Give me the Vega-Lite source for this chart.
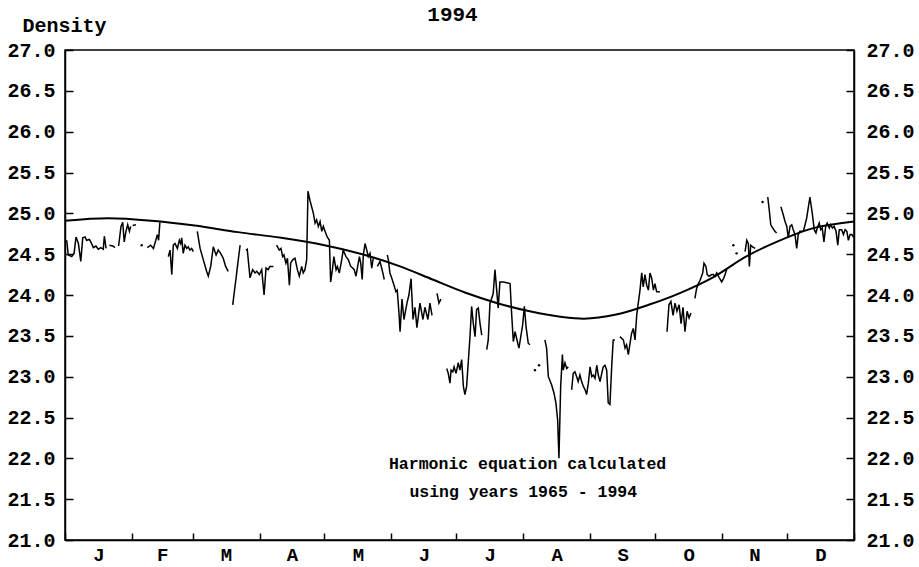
{
  "$schema": "https://vega.github.io/schema/vega-lite/v6.json",
  "width": 789,
  "height": 490,
  "autosize": "none",
  "padding": {"left": 65, "top": 50, "right": 65, "bottom": 27},
  "background": "white",
  "config": {
    "view": {"stroke": "black", "strokeWidth": 1.5},
    "font": "Liberation Mono",
    "axis": {"grid": false, "domainColor": "black", "tickColor": "black", "labelColor": "black", "domainWidth": 1.5, "tickWidth": 1.5, "labelFont": "Liberation Mono", "labelFontSize": 20, "labelFontWeight": "bold", "titleFont": "Liberation Mono", "titleFontSize": 20, "titleFontWeight": "bold", "titleColor": "black"}
  },
  "title": {"text": "1994", "font": "Liberation Mono", "fontSize": 21, "fontWeight": "bold", "color": "black", "anchor": "middle", "frame": "group", "offset": -10, "dx": -7},
  "datasets": {
    "harm": [
      {"d": 0, "v": 24.91}, {"d": 20, "v": 24.94}, {"d": 40, "v": 24.91}, {"d": 60, "v": 24.85}, {"d": 80, "v": 24.77},
      {"d": 100, "v": 24.70}, {"d": 120, "v": 24.61}, {"d": 140, "v": 24.48}, {"d": 155, "v": 24.35}, {"d": 170, "v": 24.19},
      {"d": 185, "v": 24.03}, {"d": 200, "v": 23.90}, {"d": 215, "v": 23.80}, {"d": 230, "v": 23.73}, {"d": 240, "v": 23.71},
      {"d": 255, "v": 23.76}, {"d": 270, "v": 23.88}, {"d": 285, "v": 24.03}, {"d": 300, "v": 24.22}, {"d": 315, "v": 24.47},
      {"d": 330, "v": 24.66}, {"d": 345, "v": 24.81}, {"d": 365, "v": 24.90}
    ],
    "obs": [
      {"s": 1, "d": 0.8, "v": 24.67}, {"s": 1, "d": 1.5, "v": 24.49}, {"s": 1, "d": 3.1, "v": 24.47}, {"s": 1, "d": 4.2, "v": 24.51}, {"s": 1, "d": 5.1, "v": 24.71}, {"s": 1, "d": 6.2, "v": 24.63}, {"s": 1, "d": 7.3, "v": 24.41}, {"s": 1, "d": 8.2, "v": 24.70}, {"s": 1, "d": 9.3, "v": 24.71}, {"s": 1, "d": 10.0, "v": 24.67}, {"s": 1, "d": 11.3, "v": 24.68}, {"s": 1, "d": 12.3, "v": 24.63}, {"s": 1, "d": 13.1, "v": 24.58}, {"s": 1, "d": 14.3, "v": 24.60}, {"s": 1, "d": 15.4, "v": 24.56}, {"s": 1, "d": 16.5, "v": 24.58}, {"s": 1, "d": 17.7, "v": 24.56}, {"s": 1, "d": 18.2, "v": 24.72}, {"s": 1, "d": 19.0, "v": 24.57},
      {"s": 2, "d": 20.5, "v": 24.61}, {"s": 2, "d": 22.1, "v": 24.60}, {"s": 2, "d": 23.1, "v": 24.58},
      {"s": 3, "d": 24.8, "v": 24.60}, {"s": 3, "d": 25.9, "v": 24.84}, {"s": 3, "d": 26.7, "v": 24.89}, {"s": 3, "d": 27.4, "v": 24.65}, {"s": 3, "d": 28.2, "v": 24.78}, {"s": 3, "d": 29.0, "v": 24.86}, {"s": 3, "d": 29.8, "v": 24.78}, {"s": 3, "d": 30.4, "v": 24.84},
      {"s": 4, "d": 31.3, "v": 24.85}, {"s": 4, "d": 32.8, "v": 24.86},
      {"s": 5, "d": 35.5, "v": 24.61},
      {"s": 6, "d": 38.1, "v": 24.58}, {"s": 6, "d": 39.6, "v": 24.61}, {"s": 6, "d": 40.9, "v": 24.57}, {"s": 6, "d": 42.0, "v": 24.67}, {"s": 6, "d": 42.7, "v": 24.74}, {"s": 6, "d": 43.3, "v": 24.67}, {"s": 6, "d": 43.9, "v": 24.89},
      {"s": 7, "d": 47.8, "v": 24.47}, {"s": 7, "d": 48.6, "v": 24.55}, {"s": 7, "d": 49.4, "v": 24.25}, {"s": 7, "d": 50.1, "v": 24.61}, {"s": 7, "d": 50.9, "v": 24.63}, {"s": 7, "d": 52.0, "v": 24.57}, {"s": 7, "d": 52.9, "v": 24.67}, {"s": 7, "d": 53.5, "v": 24.63}, {"s": 7, "d": 54.0, "v": 24.70}, {"s": 7, "d": 54.7, "v": 24.51}, {"s": 7, "d": 55.5, "v": 24.61}, {"s": 7, "d": 56.3, "v": 24.57}, {"s": 7, "d": 57.0, "v": 24.59}, {"s": 7, "d": 57.8, "v": 24.55}, {"s": 7, "d": 58.6, "v": 24.57}, {"s": 7, "d": 59.4, "v": 24.53},
      {"s": 8, "d": 61.2, "v": 24.78}, {"s": 8, "d": 62.5, "v": 24.57}, {"s": 8, "d": 64.0, "v": 24.43}, {"s": 8, "d": 65.5, "v": 24.29}, {"s": 8, "d": 66.3, "v": 24.23}, {"s": 8, "d": 67.4, "v": 24.35}, {"s": 8, "d": 68.6, "v": 24.59}, {"s": 8, "d": 69.9, "v": 24.49}, {"s": 8, "d": 70.9, "v": 24.55}, {"s": 8, "d": 72.0, "v": 24.51}, {"s": 8, "d": 73.2, "v": 24.45}, {"s": 8, "d": 74.3, "v": 24.35}, {"s": 8, "d": 75.5, "v": 24.29},
      {"s": 9, "d": 77.6, "v": 23.88}, {"s": 9, "d": 81.0, "v": 24.61},
      {"s": 10, "d": 83.7, "v": 24.55}, {"s": 10, "d": 84.3, "v": 24.56}, {"s": 10, "d": 85.6, "v": 24.21}, {"s": 10, "d": 86.8, "v": 24.31}, {"s": 10, "d": 87.9, "v": 24.27}, {"s": 10, "d": 88.7, "v": 24.29}, {"s": 10, "d": 89.9, "v": 24.25}, {"s": 10, "d": 91.0, "v": 24.31}, {"s": 10, "d": 92.1, "v": 24.0}, {"s": 10, "d": 93.0, "v": 24.33}, {"s": 10, "d": 94.0, "v": 24.31}, {"s": 10, "d": 94.8, "v": 24.35}, {"s": 10, "d": 96.4, "v": 24.35},
      {"s": 11, "d": 97.9, "v": 24.61}, {"s": 11, "d": 99.1, "v": 24.55}, {"s": 11, "d": 99.9, "v": 24.57}, {"s": 11, "d": 100.7, "v": 24.47}, {"s": 11, "d": 101.3, "v": 24.49}, {"s": 11, "d": 102.2, "v": 24.39}, {"s": 11, "d": 102.9, "v": 24.45}, {"s": 11, "d": 103.8, "v": 24.12}, {"s": 11, "d": 104.4, "v": 24.39}, {"s": 11, "d": 105.3, "v": 24.43}, {"s": 11, "d": 106.4, "v": 24.45}, {"s": 11, "d": 107.5, "v": 24.31}, {"s": 11, "d": 108.4, "v": 24.23}, {"s": 11, "d": 109.5, "v": 24.35}, {"s": 11, "d": 110.2, "v": 24.27}, {"s": 11, "d": 111.0, "v": 24.31}, {"s": 11, "d": 111.8, "v": 24.43}, {"s": 11, "d": 112.4, "v": 25.27}, {"s": 11, "d": 113.3, "v": 25.16}, {"s": 11, "d": 114.9, "v": 25.0}, {"s": 11, "d": 115.7, "v": 24.88}, {"s": 11, "d": 116.4, "v": 24.92}, {"s": 11, "d": 117.2, "v": 24.84}, {"s": 11, "d": 118.0, "v": 24.90}, {"s": 11, "d": 118.8, "v": 24.78}, {"s": 11, "d": 119.5, "v": 24.84}, {"s": 11, "d": 120.3, "v": 24.78}, {"s": 11, "d": 121.3, "v": 24.71}, {"s": 11, "d": 122.3, "v": 24.67}, {"s": 11, "d": 122.9, "v": 24.16}, {"s": 11, "d": 123.7, "v": 24.31}, {"s": 11, "d": 124.4, "v": 24.47}, {"s": 11, "d": 125.4, "v": 24.31}, {"s": 11, "d": 126.0, "v": 24.35}, {"s": 11, "d": 126.9, "v": 24.27}, {"s": 11, "d": 128.0, "v": 24.43}, {"s": 11, "d": 128.7, "v": 24.55}, {"s": 11, "d": 130.0, "v": 24.47}, {"s": 11, "d": 131.1, "v": 24.43}, {"s": 11, "d": 132.2, "v": 24.35}, {"s": 11, "d": 133.1, "v": 24.33}, {"s": 11, "d": 133.8, "v": 24.31}, {"s": 11, "d": 134.6, "v": 24.23}, {"s": 11, "d": 135.4, "v": 24.35}, {"s": 11, "d": 136.2, "v": 24.47}, {"s": 11, "d": 136.8, "v": 24.39}, {"s": 11, "d": 137.5, "v": 24.19}, {"s": 11, "d": 138.0, "v": 24.49}, {"s": 11, "d": 138.8, "v": 24.63}, {"s": 11, "d": 139.6, "v": 24.55}, {"s": 11, "d": 140.3, "v": 24.47}, {"s": 11, "d": 141.1, "v": 24.51}, {"s": 11, "d": 141.9, "v": 24.33}, {"s": 11, "d": 142.6, "v": 24.45},
      {"s": 12, "d": 144.5, "v": 24.35}, {"s": 12, "d": 145.7, "v": 24.41}, {"s": 12, "d": 146.5, "v": 24.33}, {"s": 12, "d": 147.2, "v": 24.25}, {"s": 12, "d": 147.7, "v": 24.19},
      {"s": 13, "d": 149.1, "v": 24.49}, {"s": 13, "d": 149.6, "v": 24.43}, {"s": 13, "d": 150.3, "v": 24.27}, {"s": 13, "d": 151.1, "v": 24.21}, {"s": 13, "d": 152.2, "v": 24.12}, {"s": 13, "d": 153.1, "v": 24.04}, {"s": 13, "d": 153.7, "v": 24.06}, {"s": 13, "d": 154.5, "v": 23.78}, {"s": 13, "d": 155.0, "v": 23.55}, {"s": 13, "d": 155.9, "v": 23.95}, {"s": 13, "d": 156.8, "v": 23.7}, {"s": 13, "d": 158.2, "v": 23.9}, {"s": 13, "d": 159.1, "v": 24.0}, {"s": 13, "d": 160.1, "v": 24.2}, {"s": 13, "d": 161.0, "v": 23.7}, {"s": 13, "d": 161.9, "v": 23.85}, {"s": 13, "d": 162.8, "v": 23.6}, {"s": 13, "d": 164.2, "v": 23.9}, {"s": 13, "d": 165.6, "v": 23.7}, {"s": 13, "d": 166.5, "v": 23.85}, {"s": 13, "d": 167.9, "v": 23.7}, {"s": 13, "d": 168.8, "v": 23.9}, {"s": 13, "d": 169.8, "v": 23.75},
      {"s": 14, "d": 172.1, "v": 24.02}, {"s": 14, "d": 173.0, "v": 23.9}, {"s": 14, "d": 173.9, "v": 23.95},
      {"s": 15, "d": 176.6, "v": 23.10}, {"s": 15, "d": 177.3, "v": 23.04}, {"s": 15, "d": 178.1, "v": 22.92}, {"s": 15, "d": 178.6, "v": 23.08}, {"s": 15, "d": 179.4, "v": 23.06}, {"s": 15, "d": 180.0, "v": 23.12}, {"s": 15, "d": 180.9, "v": 23.04}, {"s": 15, "d": 181.9, "v": 23.17}, {"s": 15, "d": 182.7, "v": 23.08}, {"s": 15, "d": 183.5, "v": 23.21}, {"s": 15, "d": 184.3, "v": 22.88}, {"s": 15, "d": 185.0, "v": 22.78}, {"s": 15, "d": 185.8, "v": 22.88}, {"s": 15, "d": 187.4, "v": 23.51}, {"s": 15, "d": 188.1, "v": 23.86}, {"s": 15, "d": 188.9, "v": 23.65}, {"s": 15, "d": 189.7, "v": 23.49}, {"s": 15, "d": 190.4, "v": 23.82}, {"s": 15, "d": 191.2, "v": 23.84}, {"s": 15, "d": 192.0, "v": 23.65}, {"s": 15, "d": 192.8, "v": 23.51},
      {"s": 16, "d": 195.1, "v": 23.33}, {"s": 16, "d": 195.8, "v": 23.45}, {"s": 16, "d": 196.6, "v": 23.90}, {"s": 16, "d": 197.4, "v": 23.96}, {"s": 16, "d": 198.1, "v": 24.02}, {"s": 16, "d": 198.9, "v": 24.31}, {"s": 16, "d": 199.7, "v": 24.06}, {"s": 16, "d": 200.4, "v": 23.84}, {"s": 16, "d": 201.2, "v": 24.16}, {"s": 16, "d": 202.8, "v": 24.16}, {"s": 16, "d": 204.3, "v": 24.15}, {"s": 16, "d": 205.9, "v": 24.14}, {"s": 16, "d": 206.6, "v": 23.78}, {"s": 16, "d": 207.4, "v": 23.43}, {"s": 16, "d": 208.2, "v": 23.55}, {"s": 16, "d": 208.9, "v": 23.47}, {"s": 16, "d": 210.0, "v": 23.35}, {"s": 16, "d": 211.7, "v": 23.63}, {"s": 16, "d": 212.5, "v": 23.86}, {"s": 16, "d": 213.3, "v": 23.61}, {"s": 16, "d": 214.3, "v": 23.41}, {"s": 16, "d": 215.1, "v": 23.39},
      {"s": 17, "d": 217.4, "v": 23.08},
      {"s": 18, "d": 219.3, "v": 23.14},
      {"s": 19, "d": 222.0, "v": 23.45}, {"s": 19, "d": 222.8, "v": 23.35}, {"s": 19, "d": 223.6, "v": 23.0}, {"s": 19, "d": 225.1, "v": 22.90}, {"s": 19, "d": 226.2, "v": 22.80}, {"s": 19, "d": 227.1, "v": 22.68}, {"s": 19, "d": 227.9, "v": 22.47}, {"s": 19, "d": 228.5, "v": 22.0}, {"s": 19, "d": 229.3, "v": 22.88}, {"s": 19, "d": 230.1, "v": 23.27}, {"s": 19, "d": 230.5, "v": 23.08}, {"s": 19, "d": 231.3, "v": 23.17}, {"s": 19, "d": 232.1, "v": 23.10}, {"s": 19, "d": 232.8, "v": 23.12},
      {"s": 20, "d": 234.4, "v": 22.84}, {"s": 20, "d": 235.1, "v": 23.04}, {"s": 20, "d": 235.9, "v": 23.06}, {"s": 20, "d": 236.7, "v": 23.0}, {"s": 20, "d": 237.4, "v": 22.94}, {"s": 20, "d": 238.2, "v": 23.02}, {"s": 20, "d": 239.0, "v": 22.94}, {"s": 20, "d": 239.8, "v": 22.88}, {"s": 20, "d": 240.6, "v": 22.84}, {"s": 20, "d": 241.3, "v": 22.78}, {"s": 20, "d": 242.1, "v": 22.92}, {"s": 20, "d": 242.9, "v": 23.12}, {"s": 20, "d": 243.7, "v": 23.0}, {"s": 20, "d": 244.4, "v": 23.02}, {"s": 20, "d": 245.2, "v": 22.98}, {"s": 20, "d": 246.0, "v": 23.14}, {"s": 20, "d": 246.7, "v": 23.02}, {"s": 20, "d": 247.5, "v": 22.94}, {"s": 20, "d": 248.3, "v": 23.04}, {"s": 20, "d": 249.0, "v": 23.12}, {"s": 20, "d": 249.8, "v": 23.14}, {"s": 20, "d": 250.6, "v": 23.08}, {"s": 20, "d": 251.3, "v": 22.68}, {"s": 20, "d": 252.1, "v": 22.66}, {"s": 20, "d": 252.9, "v": 23.12}, {"s": 20, "d": 253.6, "v": 23.45}, {"s": 20, "d": 254.4, "v": 23.45},
      {"s": 21, "d": 256.7, "v": 23.49}, {"s": 21, "d": 257.5, "v": 23.47}, {"s": 21, "d": 258.3, "v": 23.45}, {"s": 21, "d": 259.1, "v": 23.35}, {"s": 21, "d": 259.8, "v": 23.39}, {"s": 21, "d": 260.6, "v": 23.27}, {"s": 21, "d": 261.4, "v": 23.41}, {"s": 21, "d": 262.1, "v": 23.53}, {"s": 21, "d": 262.9, "v": 23.59}, {"s": 21, "d": 263.7, "v": 23.45}, {"s": 21, "d": 264.5, "v": 23.76}, {"s": 21, "d": 265.2, "v": 23.90}, {"s": 21, "d": 266.0, "v": 24.06}, {"s": 21, "d": 266.8, "v": 24.27}, {"s": 21, "d": 267.5, "v": 24.10}, {"s": 21, "d": 268.3, "v": 24.25}, {"s": 21, "d": 269.1, "v": 24.12}, {"s": 21, "d": 269.9, "v": 24.06}, {"s": 21, "d": 270.6, "v": 24.27}, {"s": 21, "d": 271.4, "v": 24.21}, {"s": 21, "d": 272.2, "v": 24.06}, {"s": 21, "d": 272.9, "v": 24.14}, {"s": 21, "d": 273.7, "v": 24.04}, {"s": 21, "d": 275.2, "v": 24.04},
      {"s": 22, "d": 278.5, "v": 23.55}, {"s": 22, "d": 279.4, "v": 23.88}, {"s": 22, "d": 280.3, "v": 23.92}, {"s": 22, "d": 281.3, "v": 23.75}, {"s": 22, "d": 282.2, "v": 23.9}, {"s": 22, "d": 283.1, "v": 23.8}, {"s": 22, "d": 284.1, "v": 23.88}, {"s": 22, "d": 285.0, "v": 23.65}, {"s": 22, "d": 285.9, "v": 23.85}, {"s": 22, "d": 286.8, "v": 23.55}, {"s": 22, "d": 287.8, "v": 23.8}, {"s": 22, "d": 288.7, "v": 23.72}, {"s": 22, "d": 289.6, "v": 23.78},
      {"s": 23, "d": 291.4, "v": 23.96}, {"s": 23, "d": 292.2, "v": 24.08}, {"s": 23, "d": 293.0, "v": 24.14}, {"s": 23, "d": 293.8, "v": 24.18}, {"s": 23, "d": 295.0, "v": 24.27}, {"s": 23, "d": 295.6, "v": 24.39}, {"s": 23, "d": 296.5, "v": 24.35}, {"s": 23, "d": 297.1, "v": 24.25}, {"s": 23, "d": 298.0, "v": 24.23}, {"s": 23, "d": 299.2, "v": 24.25}, {"s": 23, "d": 299.9, "v": 24.25}, {"s": 23, "d": 300.7, "v": 24.23}, {"s": 23, "d": 301.5, "v": 24.27}, {"s": 23, "d": 302.7, "v": 24.21}, {"s": 23, "d": 303.8, "v": 24.16}, {"s": 23, "d": 304.8, "v": 24.21}, {"s": 23, "d": 306.1, "v": 24.31},
      {"s": 24, "d": 309.2, "v": 24.61},
      {"s": 25, "d": 310.7, "v": 24.51},
      {"s": 26, "d": 314.6, "v": 24.53}, {"s": 26, "d": 315.4, "v": 24.67}, {"s": 26, "d": 316.1, "v": 24.63}, {"s": 26, "d": 316.6, "v": 24.35}, {"s": 26, "d": 317.2, "v": 24.61}, {"s": 26, "d": 318.1, "v": 24.59}, {"s": 26, "d": 319.2, "v": 24.57},
      {"s": 27, "d": 322.7, "v": 25.14},
      {"s": 28, "d": 325.1, "v": 25.2}, {"s": 28, "d": 325.8, "v": 25.04}, {"s": 28, "d": 326.5, "v": 24.86}, {"s": 28, "d": 327.4, "v": 24.82}, {"s": 28, "d": 328.4, "v": 24.78}, {"s": 28, "d": 329.2, "v": 24.76},
      {"s": 29, "d": 331.2, "v": 25.08}, {"s": 29, "d": 332.3, "v": 24.98}, {"s": 29, "d": 333.1, "v": 24.90}, {"s": 29, "d": 333.9, "v": 24.84}, {"s": 29, "d": 334.6, "v": 24.70}, {"s": 29, "d": 335.4, "v": 24.84}, {"s": 29, "d": 336.2, "v": 24.86}, {"s": 29, "d": 336.9, "v": 24.80}, {"s": 29, "d": 337.7, "v": 24.74}, {"s": 29, "d": 338.5, "v": 24.57}, {"s": 29, "d": 339.2, "v": 24.74}, {"s": 29, "d": 340.0, "v": 24.78}, {"s": 29, "d": 341.6, "v": 24.78}, {"s": 29, "d": 343.1, "v": 24.94}, {"s": 29, "d": 344.6, "v": 25.2}, {"s": 29, "d": 345.7, "v": 25.0}, {"s": 29, "d": 346.6, "v": 24.80}, {"s": 29, "d": 347.4, "v": 24.76}, {"s": 29, "d": 348.0, "v": 24.82}, {"s": 29, "d": 348.9, "v": 24.88}, {"s": 29, "d": 349.6, "v": 24.80}, {"s": 29, "d": 350.3, "v": 24.82}, {"s": 29, "d": 351.1, "v": 24.65}, {"s": 29, "d": 351.9, "v": 24.84}, {"s": 29, "d": 352.6, "v": 24.88}, {"s": 29, "d": 353.6, "v": 24.82}, {"s": 29, "d": 354.2, "v": 24.86}, {"s": 29, "d": 355.0, "v": 24.82}, {"s": 29, "d": 355.8, "v": 24.84}, {"s": 29, "d": 356.7, "v": 24.78}, {"s": 29, "d": 357.5, "v": 24.61}, {"s": 29, "d": 358.2, "v": 24.80}, {"s": 29, "d": 359.3, "v": 24.80}, {"s": 29, "d": 360.1, "v": 24.74}, {"s": 29, "d": 360.9, "v": 24.80}, {"s": 29, "d": 361.7, "v": 24.78}, {"s": 29, "d": 362.4, "v": 24.67}, {"s": 29, "d": 363.2, "v": 24.74}, {"s": 29, "d": 364.0, "v": 24.74}, {"s": 29, "d": 364.7, "v": 24.71}
    ],
    "notes": [
      {"d": 214, "v": 21.93, "t": "Harmonic equation calculated"},
      {"d": 212, "v": 21.59, "t": "using years 1965 - 1994"}
    ]
  },
  "layer": [
    {
      "data": {"name": "harm"},
      "mark": {"type": "line", "color": "black", "strokeWidth": 2, "interpolate": "monotone"},
      "encoding": {
        "x": {"field": "d", "type": "quantitative", "scale": {"domain": [0, 365], "nice": false, "zero": false},
          "axis": {"orient": "bottom", "values": [0, 31, 59, 90, 120, 151, 181, 212, 243, 273, 304, 334, 365], "labels": false, "tickSize": -7, "title": null}},
        "y": {"field": "v", "type": "quantitative", "scale": {"domain": [21, 27], "nice": false, "zero": false},
          "axis": {"orient": "left", "values": [21, 21.5, 22, 22.5, 23, 23.5, 24, 24.5, 25, 25.5, 26, 26.5, 27], "format": ".1f", "tickSize": -8, "labelPadding": 18, "title": "Density", "titleAngle": 0, "titleAlign": "left", "titleBaseline": "alphabetic", "titleX": -43, "titleY": -19}}
      }
    },
    {
      "data": {"name": "obs"},
      "mark": {"type": "line", "color": "black", "strokeWidth": 1.5},
      "encoding": {
        "x": {"field": "d", "type": "quantitative", "scale": {"domain": [0, 365], "nice": false, "zero": false},
          "axis": {"orient": "bottom", "values": [15.5, 45, 74.5, 105, 135.5, 166, 196.5, 227.5, 258, 288.5, 319, 349.5], "labelExpr": "['J','F','M','A','M','J','J','A','S','O','N','D'][floor(datum.value/30.42)]", "ticks": false, "domain": false, "labelPadding": 5, "labelFontSize": 19, "title": null}},
        "y": {"field": "v", "type": "quantitative", "scale": {"domain": [21, 27], "nice": false, "zero": false},
          "axis": {"orient": "right", "values": [21, 21.5, 22, 22.5, 23, 23.5, 24, 24.5, 25, 25.5, 26, 26.5, 27], "format": ".1f", "tickSize": -8, "labelPadding": 20, "title": null}},
        "detail": {"field": "s", "type": "nominal"}
      }
    },
    {
      "data": {"name": "obs"},
      "transform": [
        {"joinaggregate": [{"op": "count", "as": "n"}], "groupby": ["s"]},
        {"filter": "datum.n == 1"}
      ],
      "mark": {"type": "circle", "color": "black", "size": 6, "opacity": 1},
      "encoding": {
        "x": {"field": "d", "type": "quantitative", "scale": {"domain": [0, 365], "nice": false, "zero": false}, "axis": null},
        "y": {"field": "v", "type": "quantitative", "scale": {"domain": [21, 27], "nice": false, "zero": false}, "axis": null}
      }
    },
    {
      "data": {"name": "notes"},
      "mark": {"type": "text", "font": "Liberation Mono", "fontSize": 16.5, "fontWeight": "bold", "color": "black", "align": "center", "baseline": "middle"},
      "encoding": {
        "x": {"field": "d", "type": "quantitative", "scale": {"domain": [0, 365], "nice": false, "zero": false}, "axis": null},
        "y": {"field": "v", "type": "quantitative", "scale": {"domain": [21, 27], "nice": false, "zero": false}, "axis": null},
        "text": {"field": "t"}
      }
    }
  ],
  "resolve": {"axis": {"x": "independent", "y": "independent"}}
}
